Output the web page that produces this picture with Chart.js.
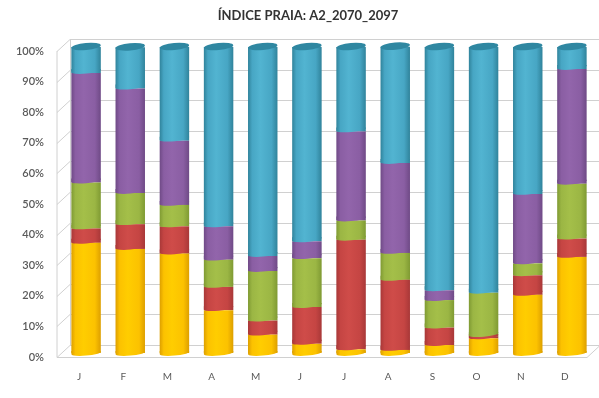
<!DOCTYPE html>
<html>
<head>
<meta charset="utf-8">
<title>Índice Praia</title>
<script src="https://cdn.jsdelivr.net/npm/chart.js@4"></script>
<style>
  html, body { margin: 0; padding: 0; background: #fff; }
  /* the reference is a soft, resampled scan */
  canvas { display: block; filter: blur(0.45px); }
</style>
</head>
<body>
<canvas id="praiaChart" width="599" height="398"></canvas>
<script>
// Values, percent of each month
const months = ['J', 'F', 'M', 'A', 'M', 'J', 'J', 'A', 'S', 'O', 'N', 'D'];
const yellowValues = [36, 34, 32.5, 14, 6, 3, 1.2, 1, 2.6, 4.8, 19, 31.4];
const redValues = [4.7, 8.1, 8.9, 7.6, 4.6, 12, 35.8, 22.9, 5.7, 0.7, 6.4, 6];
const greenValues = [15, 10.2, 7, 8.9, 16.2, 16, 6.3, 8.8, 9, 14.2, 3.9, 17.9];
const purpleValues = [35.8, 34.1, 21, 10.9, 4.9, 5.5, 29.1, 29.4, 3.2, 0, 22.7, 37.5];
const blueValues = [8.5, 13.5, 30.6, 58.6, 68.3, 63.5, 27.6, 38, 79.5, 80.3, 48, 7.2];
const titleText = 'ÍNDICE PRAIA: A2_2070_2097';

// How far the back wall sits from the front axis, and the bars in between
const wallDx = 13, wallDy = -12;
const barDx = 7, barDy = -4;

// Horizontal shading so a flat bar reads as a cylinder
function cylinder(edge, mid, light) {
    return function(context) {
        const chart = context.chart;
        const xScale = chart.scales.x;
        if (!xScale || context.dataIndex === undefined) return mid;
        const center = xScale.getPixelForValue(context.dataIndex);
        const half = xScale.width / 12 * 0.667 / 2;
        if (!isFinite(center) || !isFinite(half)) return mid;
        const g = chart.ctx.createLinearGradient(center - half, 0, center + half, 0);
        g.addColorStop(0, edge);
        g.addColorStop(0.14, mid);
        g.addColorStop(0.42, light);
        g.addColorStop(0.8, mid);
        g.addColorStop(1, edge);
        return g;
    };
}

function makeDataset(label, data, edge, mid, light) {
    return {
        label: label,
        data: data,
        backgroundColor: cylinder(edge, mid, light),
        borderWidth: 0,
        barPercentage: 0.667,
        categoryPercentage: 1,
        clip: false
    };
}

// Draws the back wall, gridlines and floor behind the bars
const wallPlugin = {
    id: 'wall',
    afterLayout(chart) {
        // The title sits a little right of the page centre
        chart.titleBlock.left += 29;
    },
    beforeDatasetsDraw(chart) {
        const ctx = chart.ctx;
        const y = chart.scales.y;
        const area = chart.chartArea;
        ctx.save();
        ctx.lineWidth = 1;
        ctx.strokeStyle = '#d0d0d0';
        y.ticks.forEach(tick => {
            const py = Math.round(y.getPixelForValue(tick.value)) + 0.5;
            ctx.beginPath();
            ctx.moveTo(area.left, py);
            ctx.lineTo(area.left + wallDx, py + wallDy);
            ctx.lineTo(area.right + wallDx, py + wallDy);
            ctx.stroke();
        });
        ctx.beginPath();
        ctx.moveTo(area.left, area.top);
        ctx.lineTo(area.left, area.bottom + 0.5);
        ctx.lineTo(area.right, area.bottom + 0.5);
        ctx.lineTo(area.right + wallDx, area.bottom + 0.5 + wallDy);
        ctx.moveTo(area.left + wallDx + 0.5, area.top + wallDy);
        ctx.lineTo(area.left + wallDx + 0.5, area.bottom + wallDy);
        ctx.stroke();
        ctx.restore();

        // The bars stand in the middle of the floor
        ctx.save();
        ctx.translate(barDx, barDy);
    },
    afterDatasetsDraw(chart) {
        const ctx = chart.ctx;
        const tilt = -0.09, depth = 2.6;
        // Rounded bottom of every segment, lowest series first
        chart.data.datasets.forEach((dataset, i) => {
            chart.getDatasetMeta(i).data.forEach((bar, j) => {
                if (dataset.data[j] <= 0) return;
                const half = bar.width / 2;
                // Only the lowest series hangs below its base
                const cy = i === 0 ? bar.base : bar.base - 2;
                ctx.beginPath();
                ctx.ellipse(bar.x, cy, half, depth, tilt, 0, Math.PI);
                ctx.lineTo(bar.x - half, cy - 2);
                ctx.lineTo(bar.x + half, cy - 2);
                ctx.closePath();
                ctx.fillStyle = bar.options.backgroundColor;
                ctx.fill();
            });
        });
        // Cap on top of the blue segment
        const top = chart.data.datasets.length - 1;
        chart.getDatasetMeta(top).data.forEach(bar => {
            ctx.beginPath();
            ctx.ellipse(bar.x, bar.y - 0.5, bar.width / 2, 3.6, tilt, 0, Math.PI * 2);
            ctx.fillStyle = '#2f87a1';
            ctx.fill();
        });
        ctx.restore();
    }
};

new Chart(document.getElementById('praiaChart'), {
    type: 'bar',
    data: {
        labels: months,
        datasets: [
            makeDataset('Yellow', yellowValues, '#dd9f00', '#fcc200', '#ffcd00'),
            makeDataset('Red', redValues, '#a83838', '#c54543', '#cf4c49'),
            makeDataset('Green', greenValues, '#7f9a33', '#9bb644', '#a4bf49'),
            makeDataset('Purple', purpleValues, '#6f4a86', '#8a5ea3', '#9265ab'),
            makeDataset('Blue', blueValues, '#30839b', '#47a6c4', '#52b4d1')
        ]
    },
    options: {
        responsive: false,
        animation: false,
        layout: { padding: { left: 0, right: 12, top: 0, bottom: 0 } },
        plugins: {
            legend: { display: false },
            tooltip: { enabled: false },
            title: {
                display: true,
                text: titleText,
                color: '#333333',
                font: { family: 'Lato', size: 13, weight: 'bold' },
                padding: { top: 8, bottom: 27.4 }
            }
        },
        scales: {
            x: {
                stacked: true,
                grid: { display: false },
                border: { display: false },
                ticks: {
                    color: '#5a5a5a',
                    font: { family: 'Lato', size: 10 },
                    padding: 6,
                    maxRotation: 0
                },
                afterFit(scale) { scale.height = 41; }
            },
            y: {
                stacked: true,
                min: 0,
                max: 100,
                grid: { display: false },
                border: { display: false },
                ticks: {
                    stepSize: 10,
                    color: '#5a5a5a',
                    font: { family: 'Lato', size: 11, weight: '600' },
                    padding: 5,
                    callback: value => value + '%'
                },
                afterFit(scale) { scale.width = 57; }
            }
        }
    },
    plugins: [wallPlugin]
});
</script>
</body>
</html>
